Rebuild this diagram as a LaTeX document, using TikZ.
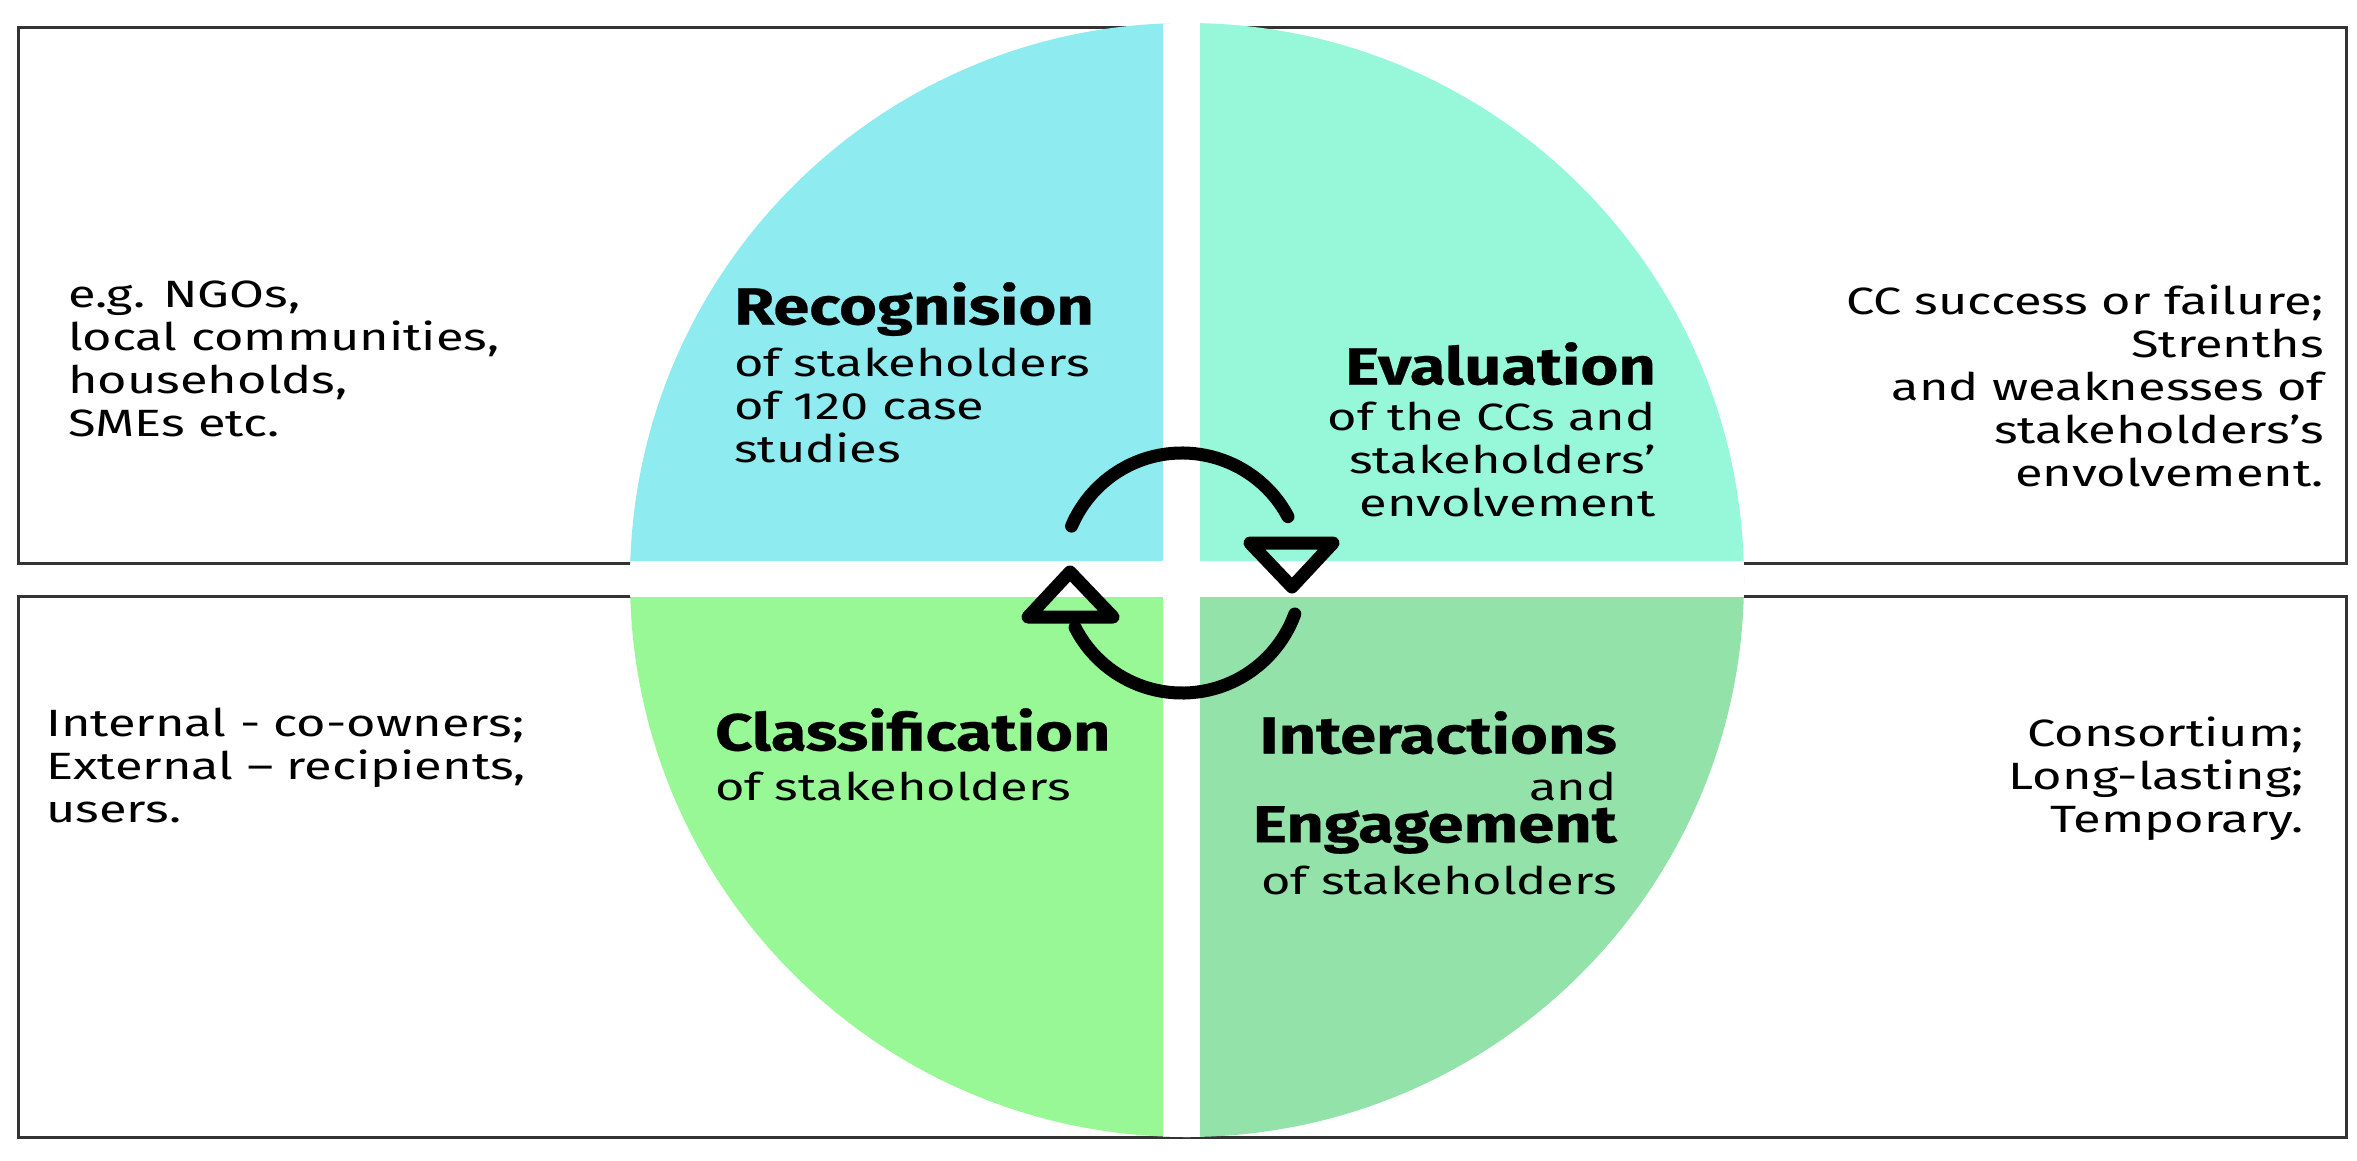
\documentclass[tikz,border=0pt]{standalone}
\usepackage{fontspec}
\setmainfont{Fira Sans}[FakeStretch=1.33]
\newfontfamily\hdfont{Fira Sans}[FakeStretch=1.25,FakeBold=0.5]
\begin{document}
\begin{tikzpicture}[x=1pt,y=-1pt,
  txt/.style={inner sep=0pt,font=\fontsize{38}{43}\selectfont},
  hd/.style={inner sep=0pt,font=\hdfont\fontsize{52}{54}\selectfont\bfseries},
  box/.style={draw=black!80,line width=3pt},
  cyc/.style={line width=13pt,line cap=round,line join=round}]
\definecolor{qTL}{HTML}{8EEBEF}
\definecolor{qTR}{HTML}{97F8D9}
\definecolor{qBL}{HTML}{98F896}
\definecolor{qBR}{HTML}{92E2AA}
\useasboundingbox (0,0) rectangle (2357,1161);
\fill[white] (0,0) rectangle (2357,1161);
\draw[box] (18,28) rectangle (2346,563);
\draw[box] (18,596) rectangle (2346,1137);
\begin{scope}
  \clip (1187,580) circle (557);
  \fill[qTL] (600,0) rectangle (1182,580);
  \fill[qTR] (1182,0) rectangle (1800,580);
  \fill[qBL] (600,580) rectangle (1182,1161);
  \fill[qBR] (1182,580) rectangle (1800,1161);
  \fill[white] (1163,0) rectangle (1200,1161);
  \fill[white] (600,561) rectangle (1800,597);
\end{scope}
% cycle arrows
\coordinate (c) at (1182,573);
\draw[cyc] (c) ++(153:120) arc (153:20:120);
\draw[cyc] (1250,543) -- (1333,543) -- (1292,587) -- cycle;
\draw[cyc] (c) ++(-28:120) arc (-28:-157:120);
\draw[cyc] (1028,617) -- (1113,617) -- (1070,572) -- cycle;
% texts
\node[txt,anchor=north west,align=left] (lt) at (68,281) {e.g. NGOs,\\local communities,\\households,\\SMEs etc.};
\node[hd,anchor=north west] (rec) at (734,282) {Recognision};
\node[txt,anchor=north west,align=left] (rec2) at (734,348) {of stakeholders\\of 120 case\\studies};
\node[hd,anchor=north east] (eva) at (1656,342) {Evaluation};
\node[txt,anchor=north east,align=right] (eva2) at (1656,402) {of the CCs and\\stakeholders’\\envolvement};
\node[txt,anchor=north east,align=right] (rt) at (2324,285) {CC success or failure;\\Strenths\\and weaknesses of\\stakeholders’s\\envolvement.};
\node[txt,anchor=north west,align=left] (lb) at (46,708) {Internal - co-owners;\\External – recipients,\\users.};
\node[hd,anchor=north west] (cla) at (715,708) {Classification};
\node[txt,anchor=north west,align=left] (cla2) at (715,772) {of stakeholders};
\node[hd,anchor=north east] (int) at (1617,711) {Interactions};
\node[txt,anchor=north east] (and) at (1617,772) {and};
\node[hd,anchor=north east] (eng) at (1617,806) {Engagement};
\node[txt,anchor=north east] (int2) at (1617,866) {of stakeholders};
\node[txt,anchor=north east,align=right] (rb) at (2304,717) {Consortium;\\Long-lasting;\\Temporary.};
\end{tikzpicture}
\end{document}
